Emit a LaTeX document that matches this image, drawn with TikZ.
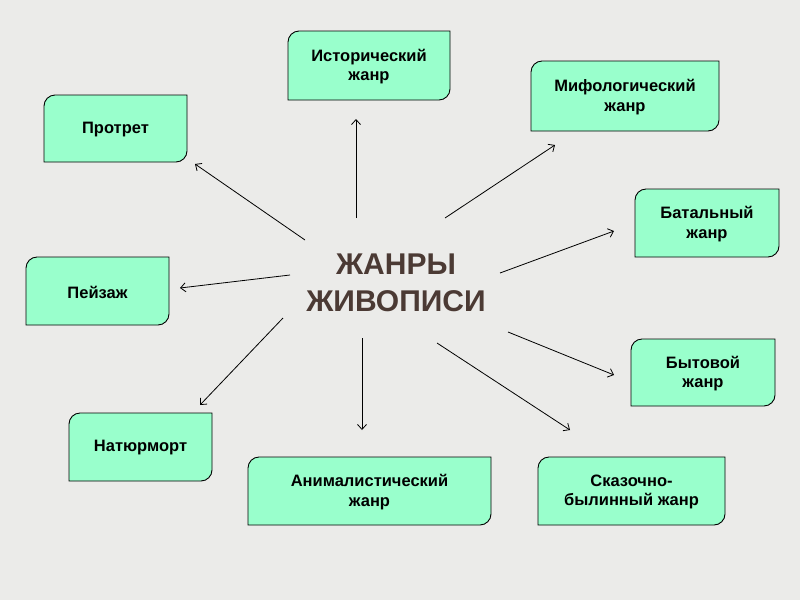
\documentclass[tikz,border=0pt]{standalone}
\usepackage{fontspec}
\setmainfont{Liberation Sans}
\usetikzlibrary{arrows.meta}
\pgfdeclarelayer{back}
\pgfsetlayers{back,main}
\definecolor{bg}{RGB}{235,235,233}
\definecolor{boxfill}{RGB}{153,255,204}
\definecolor{titlec}{RGB}{75,58,52}
\tikzset{
  gtext/.style={align=center, font=\bfseries\fontsize{16.5}{19.5}\selectfont, inner sep=0pt, text=black},
  gshape/.style={fill=boxfill, draw=black, line width=0.9pt},
  arr/.style={draw=black, line width=0.8pt, -{Straight Barb[length=5pt,width=9pt]}},
  titletext/.style={align=center, font=\bfseries\fontsize{30}{37}\selectfont, inner sep=0pt, text=titlec},
}
% name, x1, y1, x2, y2, text
\newcommand\gbox[6]{%
  \node[gtext, minimum width={(#4-#2)*1pt}, minimum height={(#5-#3)*1pt}] (#1) at ({(#2+#4)/2},{(#3+#5)/2+1}) {#6};
  \begin{pgfonlayer}{back}
    \filldraw[gshape] ({#2},{#5}) -- ({#2},{#3+11})
      .. controls ({#2},{#3+5}) and ({#2+5},{#3}) .. ({#2+11},{#3})
      -- ({#4},{#3}) -- ({#4},{#5-11})
      .. controls ({#4},{#5-5}) and ({#4-5},{#5}) .. ({#4-11},{#5}) -- cycle;
  \end{pgfonlayer}
}
\begin{document}
\begin{tikzpicture}[x=1pt,y=-1pt]
  \begin{pgfonlayer}{back}
    \fill[bg] (0,0) rectangle (800,600);
  \end{pgfonlayer}
  \useasboundingbox (0,0) rectangle (800,600);

  \gbox{hist}{288}{31}{450}{100}{Исторический\\жанр}
  \gbox{port}{44}{95}{187}{162}{Протрет}
  \gbox{myth}{531}{61}{719}{131}{Мифологический\\жанр}
  \gbox{batt}{635}{189}{779}{257}{Батальный\\жанр}
  \gbox{land}{26}{257}{169}{325}{Пейзаж}
  \gbox{genre}{631}{339}{775}{406}{Бытовой\\жанр}
  \gbox{still}{69}{413}{212}{481}{Натюрморт}
  \gbox{anim}{248}{457}{491}{525}{Анималистический\\жанр}
  \gbox{fairy}{538}{457}{725}{525}{Сказочно-\\былинный жанр}

  \node[titletext] (center) at (396,282.5) {ЖАНРЫ\\ЖИВОПИСИ};

  \coordinate (s1) at (356,218); \coordinate (e1) at (356,119);
  \coordinate (s2) at (305,240); \coordinate (e2) at (195,164);
  \coordinate (s3) at (445,218); \coordinate (e3) at (555,145);
  \coordinate (s4) at (500,273); \coordinate (e4) at (614,231);
  \coordinate (s5) at (290,275); \coordinate (e5) at (180,288);
  \coordinate (s6) at (508,332); \coordinate (e6) at (614,375);
  \coordinate (s7) at (283,318); \coordinate (e7) at (200,405);
  \coordinate (s8) at (362,338); \coordinate (e8) at (362,430);
  \coordinate (s9) at (437,343); \coordinate (e9) at (570,430);

  \foreach \i in {1,...,9} { \draw[arr] (s\i) -- (e\i); }
\end{tikzpicture}
\end{document}
